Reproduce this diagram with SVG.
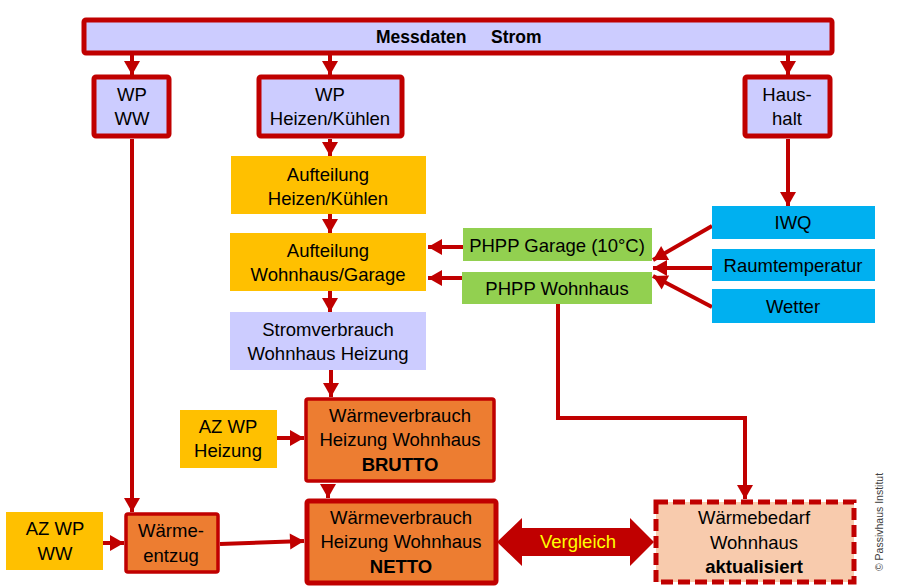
<svg xmlns="http://www.w3.org/2000/svg" width="900" height="588" viewBox="0 0 900 588">
<defs>
<marker id="ah" markerUnits="userSpaceOnUse" markerWidth="18" markerHeight="18" refX="15" refY="9" orient="auto">
<path d="M1,1 L15,9 L1,17 Z" fill="#C00000"/>
</marker>
<style>
text{font-family:"Liberation Sans",Arial,sans-serif;font-size:18.5px;fill:#000;text-anchor:middle}
.b{font-weight:bold}
.lav{fill:#CCCCFF}
.thick{stroke:#C00000;stroke-width:5}
.mid{stroke:#C00000;stroke-width:3.5}
.yel{fill:#FFC000}
.grn{fill:#92D050}
.blu{fill:#00B0F0}
.org{fill:#ED7D31}
.con{stroke:#C00000;stroke-width:4;fill:none;marker-end:url(#ah)}
</style>
</defs>
<rect width="900" height="588" fill="#fff"/>

<g id="connectors">
<line class="con" x1="132" y1="55" x2="132" y2="75"/>
<line class="con" x1="330" y1="55" x2="330" y2="75"/>
<line class="con" x1="788" y1="55" x2="788" y2="75"/>
<line class="con" x1="330" y1="139" x2="330" y2="156"/>
<line class="con" x1="788" y1="139" x2="788" y2="206"/>
<line class="con" x1="330" y1="214" x2="330" y2="233"/>
<line class="con" x1="330" y1="291" x2="330" y2="312"/>
<line class="con" x1="331" y1="370" x2="331" y2="397"/>
<line class="con" x1="328" y1="484" x2="328" y2="498"/>
<line class="con" x1="463" y1="247" x2="428" y2="247"/>
<line class="con" x1="463" y1="278" x2="428" y2="278"/>
<line class="con" x1="712" y1="226" x2="653" y2="260"/>
<line class="con" x1="712" y1="268" x2="653" y2="268"/>
<line class="con" x1="712" y1="307" x2="653" y2="276"/>
<line class="con" x1="277" y1="438" x2="304" y2="438"/>
<line class="con" x1="103" y1="543" x2="124" y2="543"/>
<line class="con" x1="220" y1="544" x2="304" y2="541"/>
<polyline class="con" points="132,139 132,512"/>
<polyline class="con" points="558,304 558,418 745,418 745,499"/>
<polygon points="497,542 522,518 522,528 630,528 630,518 654,542 630,566 630,556 522,556 522,566" fill="#C00000"/>
<text x="578" y="548" style="fill:#FFFF00">Vergleich</text>
</g>

<g id="messdaten">
<rect x="84" y="20" width="748" height="33" rx="2" class="lav thick"/>
<text class="b" x="458" y="43" style="text-anchor:start;font-size:17.5px"><tspan x="376">Messdaten</tspan><tspan x="491">Strom</tspan></text>
</g>

<g id="wp-ww">
<rect x="94" y="77" width="75" height="59" rx="2" class="lav thick"/>
<text x="132" y="101">WP</text>
<text x="132" y="125">WW</text>
</g>

<g id="wp-heizen">
<rect x="259" y="77" width="143" height="59" rx="2" class="lav thick"/>
<text x="330" y="101">WP</text>
<text x="330" y="125">Heizen/Kühlen</text>
</g>

<g id="haushalt">
<rect x="745" y="77" width="85" height="59" rx="2" class="lav thick"/>
<text x="787" y="101">Haus-</text>
<text x="787" y="125">halt</text>
</g>

<g id="aufteilung-hk">
<rect x="231" y="156" width="195" height="58" class="yel"/>
<text x="328" y="181">Aufteilung</text>
<text x="328" y="205">Heizen/Kühlen</text>
</g>

<g id="aufteilung-wg">
<rect x="230" y="233" width="196" height="58" class="yel"/>
<text x="328" y="257">Aufteilung</text>
<text x="328" y="281">Wohnhaus/Garage</text>
</g>

<g id="stromverbrauch">
<rect x="230" y="312" width="196" height="58" class="lav"/>
<text x="328" y="336">Stromverbrauch</text>
<text x="328" y="360">Wohnhaus Heizung</text>
</g>

<g id="phpp-garage">
<rect x="463" y="228" width="189" height="33" class="grn"/>
<text x="557" y="252">PHPP Garage (10°C)</text>
</g>

<g id="phpp-wohnhaus">
<rect x="462" y="272" width="190" height="32" class="grn"/>
<text x="557" y="295">PHPP Wohnhaus</text>
</g>

<g id="iwq">
<rect x="712" y="206" width="163" height="33" class="blu"/>
<text x="793" y="229">IWQ</text>
</g>

<g id="raumtemperatur">
<rect x="712" y="249" width="163" height="32" class="blu"/>
<text x="793" y="272">Raumtemperatur</text>
</g>

<g id="wetter">
<rect x="712" y="289" width="163" height="34" class="blu"/>
<text x="793" y="313">Wetter</text>
</g>

<g id="az-wp-heizung">
<rect x="180" y="410" width="97" height="58" class="yel"/>
<text x="228" y="433">AZ WP</text>
<text x="228" y="457">Heizung</text>
</g>

<g id="brutto">
<rect x="306" y="399" width="188" height="82" rx="2" class="org mid"/>
<text x="400" y="422">Wärmeverbrauch</text>
<text x="400" y="446">Heizung Wohnhaus</text>
<text x="400" y="471" class="b">BRUTTO</text>
</g>

<g id="az-wp-ww">
<rect x="6" y="512" width="97" height="58" class="yel"/>
<text x="55" y="535">AZ WP</text>
<text x="55" y="560">WW</text>
</g>

<g id="waermeentzug">
<rect x="126" y="514" width="92" height="58" rx="2" class="org mid"/>
<text x="171" y="537">Wärme-</text>
<text x="171" y="562">entzug</text>
</g>

<g id="netto">
<rect x="307" y="501" width="189" height="82" rx="2" class="org thick"/>
<text x="401" y="524">Wärmeverbrauch</text>
<text x="401" y="548">Heizung Wohnhaus</text>
<text x="401" y="573" class="b">NETTO</text>
</g>

<g id="waermebedarf">
<rect x="656" y="502" width="198" height="80" fill="#F8CBAD" stroke="#C00000" stroke-width="5" stroke-dasharray="12,5"/>
<text x="754" y="524">Wärmebedarf</text>
<text x="754" y="549">Wohnhaus</text>
<text x="754" y="573" class="b">aktualisiert</text>
</g>

<text x="0" y="0" transform="translate(883,522) rotate(-90)" style="font-size:10.5px;fill:#404040">© Passivhaus Institut</text>
</svg>
